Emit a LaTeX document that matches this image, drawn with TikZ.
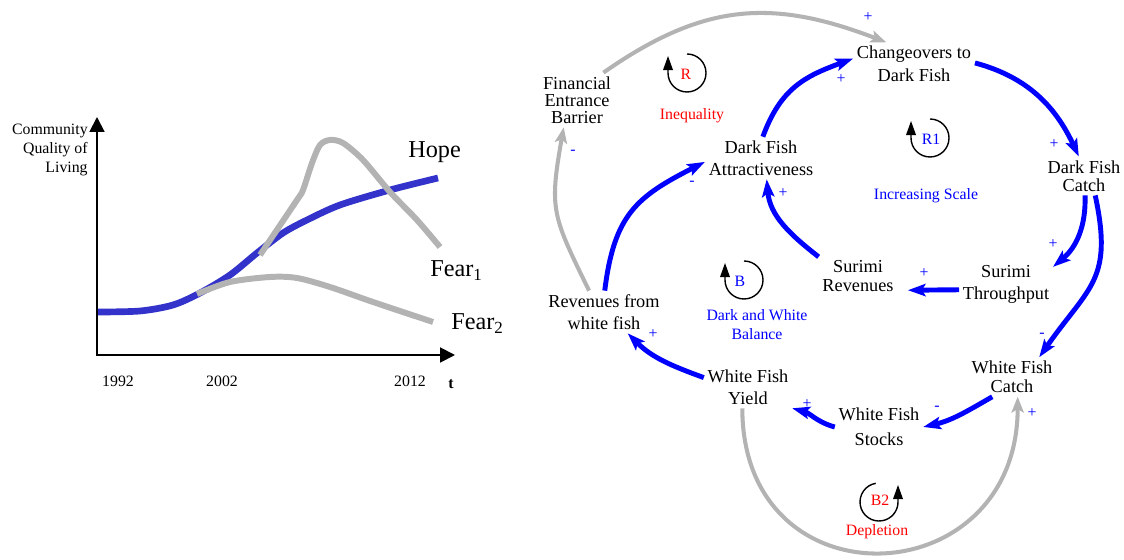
\documentclass[tikz,border=0pt]{standalone}
\usepackage{fontspec}
\setmainfont{Liberation Serif}
\usetikzlibrary{
		arrows.meta,
		calc,
		positioning
	}
\definecolor{lgray}{RGB}{179,179,179}
\definecolor{hopeblue}{RGB}{51,51,204}
\tikzset{
		>=stealth,
		lead/.style={font=\fontsize{10.4}{#1}\selectfont},
		var/.style={align=center,inner sep=2pt,lead=12.5},
		small/.style={font=\fontsize{9}{10.8}\selectfont,inner sep=0pt,align=center},
		big/.style={font=\fontsize{13.8}{16}\selectfont,inner sep=0pt},
		sign/.style={small,text=blue},
		blink/.style={line width=2.8pt,draw=blue,-{Stealth[length=10pt,width=7pt,inset=2pt]}},
		glink/.style={line width=2.3pt,draw=lgray,-{Stealth[length=9pt,width=7pt,inset=2pt]}},
		loopar/.style={line width=0.8pt,-{Triangle[length=8pt,width=5.5pt]}},
		axis/.style={line width=1.1pt,>={Triangle[length=8.5pt,width=8.5pt]}}
	}

\begin{document}
\begin{tikzpicture}[x=0.02cm,y=0.02cm]
\useasboundingbox (0,0) rectangle (1124,560);
\draw[axis,<->] (97,443) -- (97,205) -- (455,205);
\node[small,anchor=east,align=right] (ylab) at (88,410) {Community\\Quality of\\Living};
\node[small,anchor=base] (y1992) at (118,173) {1992};
\node[small,anchor=base] (y2002) at (222,173) {2002};
\node[small,anchor=base] (y2012) at (410,173) {2012};
\node[small,anchor=base] (tlab) at (451,171) {\textbf{t}};
\draw[hopeblue,line width=3.8pt] plot[smooth,tension=0.5] coordinates {(98,248) (140,249) (173,255) (200,267) (230,285) (257,307) (283,327) (307,340) (340,355) (390,370) (438,382)};
\draw[lgray,line width=3.4pt] plot[smooth,tension=0.5] coordinates {(260,305) (297,360) (303,370) (312,397) (320,415) (330,420) (343,417) (363,400) (390,368) (417,340) (440,313)};
\draw[lgray,line width=3.4pt] plot[smooth,tension=0.5] coordinates {(197,266) (230,278) (270,283) (297,282) (330,273) (373,258) (433,238)};
\node[big,anchor=base west] (hope) at (408,402) {Hope};
\node[big,anchor=base west] (fear1) at (430,283) {Fear\textsubscript{1}};
\node[big,anchor=base west] (fear2) at (451,230) {Fear\textsubscript{2}};

\node[var,lead=9.7] (fin) at (577,460) {Financial\\Entrance\\Barrier};
\node[var,lead=13] (chg) at (914,496) {Changeovers to\\Dark Fish};
\node[var] (dfa) at (761,402) {Dark Fish\\Attractiveness};
\node[var,lead=10.4] (dfc) at (1084,384) {Dark Fish\\Catch};
\node[var] (sth) at (1006,276) {Surimi\\Throughput};
\node[var,lead=10.4] (srev) at (858,284) {Surimi\\Revenues};
\node[var] (rwf) at (604,248) {Revenues from\\white fish};
\node[var,lead=10.8] (wfc) at (1012,183) {White Fish\\Catch};
\node[var] (wfy) at (748,173) {White Fish\\Yield};
\node[var,lead=14.2] (wfs) at (879,133) {White Fish\\Stocks};

\draw[glink] (fin.46) to[out=35,in=159,looseness=1.1] (chg.142);
\draw[glink] (rwf.125) to[out=116,in=260,looseness=1.3] (fin.244);
\draw[blink] (rwf.88) to[out=83,in=207,looseness=1.2] (dfa.184);
\draw[blink] (dfa.85) to[out=70,in=200,looseness=1.1] (chg.175);
\draw[blink] (chg.1) to[out=-15,in=115] (dfc.105);
\draw[blink] (dfc.273) to[out=-88,in=40] (sth.20);
\draw[blink] (dfc.300) to[out=-78,in=55,looseness=1.3] (wfc.36);
\draw[blink,shorten >=6pt] (sth.187) -- (srev.340);
\draw[blink] (srev.north west) to[out=142,in=-85] (dfa.285);
\draw[blink] (wfc.225) to[out=210,in=13] (wfs.east);
\draw[blink] (wfs.west) to[out=165,in=-15] (wfy.south east);
\draw[blink] (wfy.168) to[out=160,in=-45] (rwf.318);
\draw[glink] (wfy.255) to[out=-90,in=-90,looseness=1.85] (wfc.286);

\node[sign] (p1) at (868,543) {+};
\node[sign] (m1) at (573,408) {-};
\node[sign] (m2) at (692,377) {-};
\node[sign] (p2) at (841,481) {+};
\node[sign] (p3) at (1054,416) {+};
\node[sign] (p4) at (1053,316) {+};
\node[sign] (m3) at (1042,225) {-};
\node[sign] (p5) at (924,287) {+};
\node[sign] (p6) at (783,367) {+};
\node[sign] (m4) at (937,152) {-};
\node[sign] (p7) at (807,156) {+};
\node[sign] (p8) at (653,226) {+};
\node[sign] (p9) at (1032,147) {+};

\coordinate (lr) at (687,487);
\draw[loopar] (lr) ++(90:19) arc[start angle=90,end angle=-180,radius=19] -- ++(0,17);
\node[small,red] (tr) at (686,486) {R};
\node[small,red] (tineq) at (692,444) {Inequality};
\coordinate (lr1) at (930,422);
\draw[loopar] (lr1) ++(90:19) arc[start angle=90,end angle=-180,radius=19] -- ++(0,17);
\node[small,blue] (tr1) at (931,421) {R1};
\node[small,blue] (tscale) at (926,364) {Increasing Scale};
\coordinate (lb) at (744,280);
\draw[loopar] (lb) ++(90:19) arc[start angle=90,end angle=-180,radius=19] -- ++(0,17);
\node[small,blue] (tb) at (740,279) {B};
\node[small,blue] (tbal) at (757,235) {Dark and White\\Balance};
\coordinate (lb2) at (879,58);
\draw[loopar] (lb2) ++(100:19) arc[start angle=100,end angle=360,radius=19] -- ++(0,17);
\node[small,red] (tb2) at (880,60) {B2};
\node[small,red] (tdep) at (877,28) {Depletion};
\end{tikzpicture}
\end{document}
